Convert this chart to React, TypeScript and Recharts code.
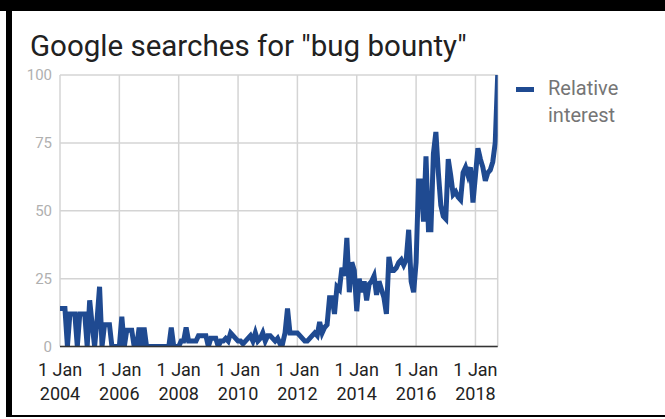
import React from 'react';
import { LineChart, Line, XAxis, YAxis, CartesianGrid } from 'recharts';

const v2004 = [14, 14, 14, 0, 12, 12, 12, 0, 12, 12, 12, 0];
const v2005 = [17, 8, 0, 10, 22, 0, 8, 8, 8, 0, 0, 0];
const v2006 = [0, 11, 0, 6, 6, 6, 0, 0, 7, 0, 7, 0];
const v2007 = [0, 0, 0, 0, 0, 0, 0, 0, 0, 7, 0, 0];
const v2008 = [0, 2, 2, 7, 2, 2, 2, 2, 4, 4, 4, 4];
const v2009 = [0, 3, 3, 3, 0, 2, 2, 3, 2, 5, 4, 3];
const v2010 = [2, 2, 1, 2, 3, 4, 2, 5, 2, 3, 5, 2];
const v2011 = [4, 4, 3, 2, 3, 1, 1, 5, 14, 5, 5, 5];
const v2012 = [5, 4, 3, 2, 2, 3, 4, 5, 4, 9, 5, 7];
const v2013 = [8, 18, 18, 12, 22, 21, 29, 26, 40, 20, 31, 28];
const v2014 = [13, 25, 20, 24, 17, 23, 24, 26, 19, 24, 21, 18];
const v2015 = [12, 33, 28, 28, 29, 31, 32, 30, 32, 43, 24, 20];
const v2016 = [31, 61, 61, 46, 70, 43, 43, 71, 79, 64, 52, 48];
const v2017 = [47, 69, 63, 56, 57, 55, 54, 64, 66, 63, 66, 53];
const v2018 = [63, 73, 69, 66, 61, 64, 65, 68, 75, 100];

const values = [
  ...v2004, ...v2005, ...v2006, ...v2007, ...v2008, ...v2009, ...v2010, ...v2011,
  ...v2012, ...v2013, ...v2014, ...v2015, ...v2016, ...v2017, ...v2018,
];

const tickMonths = [0, 24, 48, 72, 96, 120, 144, 168];
const tickYears = ['2004', '2006', '2008', '2010', '2012', '2014', '2016', '2018'];
const tickPrefix = '1 Jan';
const yTicks = [0, 25, 50, 75, 100];

const titleText = 'Google searches for "bug bounty"';
const seriesName = ['Relative', 'interest'];

const data = values.map((v, i) => ({ i, v }));

const BLUE = '#1f4a91';
const FONT = 'Roboto, "Noto Sans", sans-serif';

const XTick = (props: any) => {
  const { x, y, payload } = props;
  const idx = tickMonths.indexOf(payload.value);
  return (
    <text x={x} y={y} textAnchor="middle" fill="#222" fontSize={18} fontFamily={FONT}>
      <tspan x={x} dy={29}>{tickPrefix}</tspan>
      <tspan x={x} dy={24}>{tickYears[idx]}</tspan>
    </text>
  );
};

export default function App() {
  return (
    <div
      style={{
        position: 'absolute',
        left: 0,
        top: 0,
        width: 665,
        height: 419,
        background: '#fff',
        fontFamily: FONT,
        overflow: 'hidden',
      }}
    >
      <div style={{ position: 'absolute', left: 0, top: 0, width: 665, height: 11, background: '#000' }} />
      <div style={{ position: 'absolute', left: 6, top: 0, width: 6, height: 417, background: '#000' }} />
      <div style={{ position: 'absolute', left: 6, top: 415, width: 659, height: 2, background: '#000' }} />

      <div
        style={{
          position: 'absolute',
          left: 30,
          top: 32,
          fontSize: 29.5,
          lineHeight: '29.5px',
          color: '#212121',
          whiteSpace: 'nowrap',
        }}
      >
        {titleText}
      </div>

      <div style={{ position: 'absolute', left: 0, top: 0 }}>
        <LineChart
          width={665}
          height={419}
          data={data}
          margin={{ top: 75, right: 167.3, bottom: 42.5, left: 0 }}
        >
          <CartesianGrid stroke="#d4d4d4" strokeWidth={1.5} />
          <XAxis
            dataKey="i"
            type="number"
            domain={[0, 177]}
            allowDataOverflow
            ticks={tickMonths}
            interval={0}
            height={30}
            tickSize={0}
            tickMargin={0}
            tickLine={false}
            axisLine={{ stroke: '#333', strokeWidth: 1.5 }}
            tick={<XTick />}
          />
          <YAxis
            type="number"
            domain={[0, 100]}
            allowDataOverflow
            ticks={yTicks}
            interval={0}
            width={60}
            tickSize={0}
            tickMargin={8}
            tickLine={false}
            axisLine={false}
            tick={{ fill: '#b0b0b0', fontSize: 15, fontFamily: FONT }}
          />
          <Line
            type="linear"
            dataKey="v"
            stroke={BLUE}
            strokeWidth={5}
            dot={false}
            activeDot={false}
            isAnimationActive={false}
          />
        </LineChart>
      </div>

      <div style={{ position: 'absolute', left: 516, top: 86.5, width: 18, height: 5, background: BLUE }} />
      <div
        style={{
          position: 'absolute',
          left: 548,
          top: 75,
          fontSize: 20,
          lineHeight: '26.7px',
          color: '#757575',
        }}
      >
        <div>{seriesName[0]}</div>
        <div>{seriesName[1]}</div>
      </div>
    </div>
  );
}
